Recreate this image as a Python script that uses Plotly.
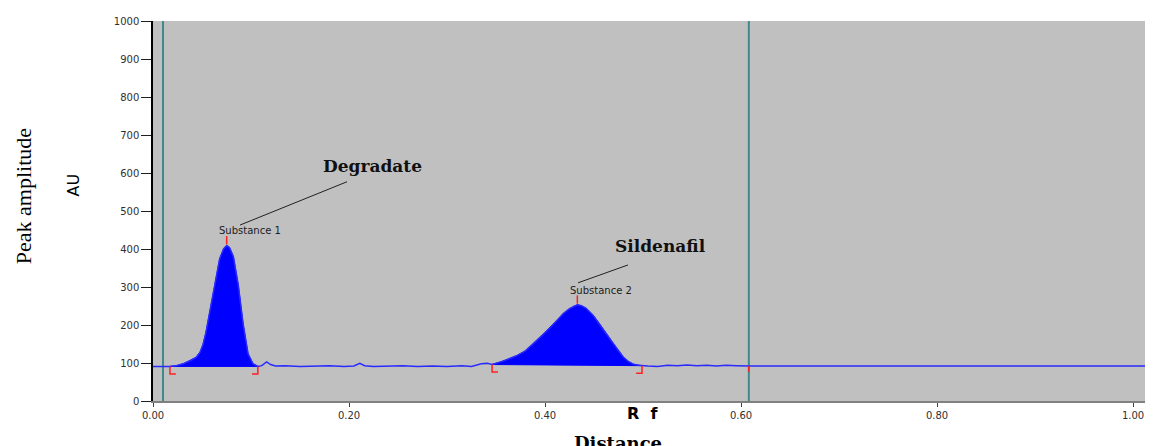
import plotly.graph_objects as go

# ---- Data ----
rf = [0.000, 0.010, 0.0173, 0.024, 0.031, 0.038, 0.044, 0.048, 0.051, 0.054,
      0.058, 0.063, 0.068, 0.072, 0.0752, 0.078, 0.082, 0.087, 0.092, 0.097,
      0.102, 0.107, 0.111, 0.116, 0.120, 0.125, 0.135, 0.150, 0.165, 0.180,
      0.195, 0.205, 0.211, 0.216, 0.225, 0.240, 0.255, 0.270, 0.285, 0.300,
      0.315, 0.325, 0.335, 0.341, 0.346, 0.355, 0.363, 0.371, 0.380, 0.388,
      0.396, 0.405, 0.412, 0.419, 0.425, 0.429, 0.433, 0.437, 0.442, 0.449,
      0.456, 0.463, 0.470, 0.475, 0.480, 0.485, 0.490, 0.495, 0.499, 0.505,
      0.515, 0.525, 0.535, 0.545, 0.555, 0.565, 0.575, 0.585, 0.595, 0.600,
      0.608, 0.700, 0.800, 0.900, 1.000, 1.020]
au = [91, 91, 91, 93, 98, 106, 115, 128, 148, 180,
      236, 313, 374, 400, 409, 404, 380, 305, 202, 124,
      98, 91, 93, 103, 96, 92, 93, 91, 92, 93,
      91, 92, 99, 93, 91, 92, 93, 91, 92, 91,
      93, 91, 98, 99, 96, 103, 110, 119, 132, 150,
      170, 192, 212, 231, 243, 249, 253, 251, 244, 226,
      202, 175, 150, 132, 115, 104, 97, 94, 93, 92,
      91, 94, 93, 95, 93, 94, 92, 94, 93, 92,
      92, 92, 92, 92, 92, 92]

peak_start = [0.0173, 0.346]
peak_end = [0.107, 0.499]
peak_apex = [0.0752, 0.433]
track_bounds = [0.0102, 0.608]   # application / front lines
front_marker = 0.608

substance_labels = ["Substance 1", "Substance 2"]
substance_pos = [(0.099, 448), (0.457, 290)]
compound_labels = ["Degradate", "Sildenafil"]
compound_pos = [(0.2235, 619), (0.518, 407)]
leader_lines = [((0.0888, 463), (0.198, 577)), ((0.4337, 311), (0.4847, 358))]

x_ticks = [0.0, 0.2, 0.4, 0.6, 0.8, 1.0]
y_ticks = [0, 100, 200, 300, 400, 500, 600, 700, 800, 900, 1000]

BLUE = "#0000ff"
LINE_BLUE = "#2a2aff"
RED = "#ff2020"
TEAL = "#3f8a8a"

fig = go.Figure()

# track boundary lines
for xb in track_bounds:
    fig.add_trace(go.Scatter(x=[xb, xb], y=[0, 1000], mode="lines",
                             line=dict(color=TEAL, width=2), hoverinfo="skip"))

# filled peaks
for s, e in zip(peak_start, peak_end):
    i0 = rf.index(s)
    i1 = rf.index(e)
    px = rf[i0:i1 + 1]
    py = au[i0:i1 + 1]
    fig.add_trace(go.Scatter(x=px + [px[0]], y=py + [py[0]], mode="lines",
                             fill="toself", fillcolor=BLUE,
                             line=dict(color=BLUE, width=1), hoverinfo="skip"))

# full trace
fig.add_trace(go.Scatter(x=rf, y=au, mode="lines",
                         line=dict(color=LINE_BLUE, width=1.5), hoverinfo="skip"))

# red integration brackets
bx, by = [], []
for s, e in zip(peak_start, peak_end):
    ys = au[rf.index(s)]
    ye = au[rf.index(e)]
    bx += [s, s, s + 0.006, None, e, e, e - 0.006, None]
    by += [ys, ys - 20, ys - 20, None, ye, ye - 20, ye - 20, None]
for a in peak_apex:
    ya = au[rf.index(a)]
    bx += [a, a, None]
    by += [ya + 3, ya + 25, None]
yf = au[rf.index(front_marker)]
bx += [front_marker, front_marker]
by += [yf, yf - 15]
fig.add_trace(go.Scatter(x=bx, y=by, mode="lines",
                         line=dict(color=RED, width=1.5), hoverinfo="skip"))

# leader lines
lx, ly = [], []
for (a, b) in leader_lines:
    lx += [a[0], b[0], None]
    ly += [a[1], b[1], None]
fig.add_trace(go.Scatter(x=lx, y=ly, mode="lines",
                         line=dict(color="#202020", width=1), hoverinfo="skip"))

annotations = []
for t, (x, y) in zip(substance_labels, substance_pos):
    annotations.append(dict(x=x, y=y, xref="x", yref="y", text=t, showarrow=False,
                            font=dict(family="DejaVu Sans", size=10, color="#202020")))
for t, (x, y) in zip(compound_labels, compound_pos):
    annotations.append(dict(x=x, y=y, xref="x", yref="y", text="<b>%s</b>" % t,
                            showarrow=False,
                            font=dict(family="DejaVu Serif", size=17, color="#101010")))

annotations += [
    dict(x=-0.13, y=0.539, xref="paper", yref="paper", text="Peak amplitude",
         textangle=-90, showarrow=False, xanchor="center", yanchor="middle",
         font=dict(family="Liberation Serif", size=22, color="black")),
    dict(x=-0.079, y=0.567, xref="paper", yref="paper", text="AU",
         textangle=-90, showarrow=False, xanchor="center", yanchor="middle",
         font=dict(family="DejaVu Sans", size=16, color="black")),
    dict(x=0.489, y=-0.034, xref="paper", yref="paper", text="<b>R  f</b>",
         showarrow=False, xanchor="center", yanchor="middle",
         font=dict(family="DejaVu Sans", size=16, color="black")),
    dict(x=0.419, y=-0.08, xref="paper", yref="paper", text="<b>Distance,</b>",
         showarrow=False, xanchor="left", yanchor="top",
         font=dict(family="DejaVu Serif", size=18, color="black")),
]

# The page body adds an 8px offset; margins compensate so the plot area
# lands at x 153..1153, y 15..401 in the browser window.
fig.update_layout(
    width=1153, height=446,
    margin=dict(l=145, r=8, t=7, b=53),
    paper_bgcolor="white",
    plot_bgcolor="#c0c0c0",
    showlegend=False,
    annotations=annotations,
    xaxis=dict(range=[0, 1.0204], tickvals=x_ticks,
               ticktext=["%.2f" % v for v in x_ticks],
               showgrid=False, zeroline=False, showline=True,
               linecolor="#808080", linewidth=1.5,
               ticks="outside", ticklen=4, tickcolor="#404040",
               tickfont=dict(family="DejaVu Sans", size=10, color="#303030")),
    yaxis=dict(range=[0, 1000], tickvals=y_ticks,
               showgrid=False, zeroline=False, showline=True,
               linecolor="black", linewidth=1.5,
               ticks="outside", ticklen=10, tickcolor="#202020",
               tickfont=dict(family="DejaVu Sans", size=10, color="#303030")),
)

fig.write_html("out.html")
